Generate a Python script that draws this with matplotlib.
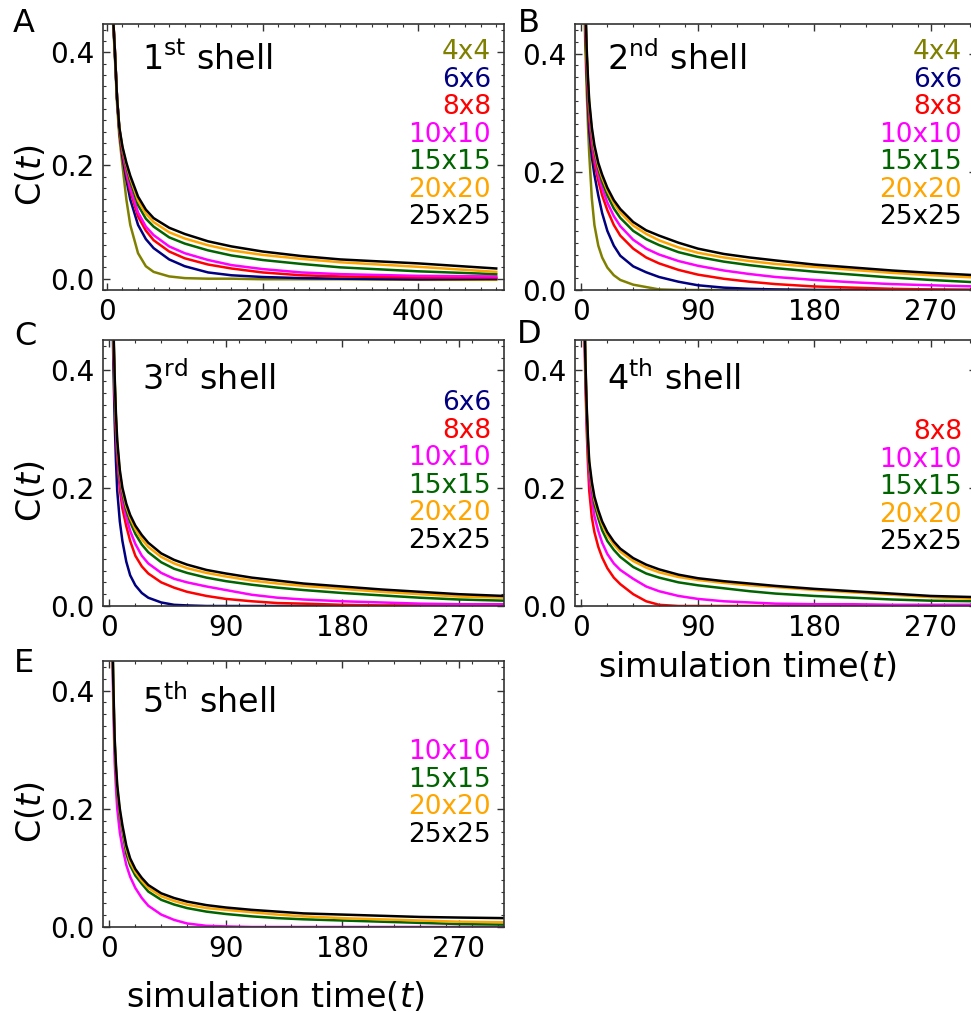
import matplotlib
matplotlib.use("Agg")
import matplotlib.pyplot as plt
from matplotlib.ticker import MultipleLocator, FixedLocator, FormatStrFormatter

plt.rcParams["font.family"] = ["DejaVu Sans"]
plt.rcParams["mathtext.fontset"] = "dejavusans"

# lattice sizes and their colours
sizes = ["4x4", "6x6", "8x8", "10x10", "15x15", "20x20", "25x25"]
colors = ["#808000", "#000080", "#ff0000", "#ff00ff", "#006400", "#ffa500", "#000000"]

# ---- 1st shell ----
t_1 = [0, 8, 10, 13, 16, 20, 25, 30, 40, 50, 60, 80, 100, 130, 160, 200, 250, 300, 400, 500]
shell1 = {
    "4x4":   [1, 0.45, 0.40, 0.31, 0.25, 0.20, 0.14, 0.095, 0.045, 0.022, 0.012, 0.004, 0.001, 0, 0, -0.001, -0.001, -0.001, -0.002, -0.002],
    "6x6":   [1, 0.46, 0.405, 0.32, 0.26, 0.215, 0.175, 0.14, 0.095, 0.07, 0.054, 0.034, 0.022, 0.011, 0.006, 0.003, 0.001, 0, -0.001, 0],
    "8x8":   [1, 0.46, 0.41, 0.32, 0.262, 0.222, 0.185, 0.155, 0.11, 0.085, 0.068, 0.048, 0.036, 0.025, 0.018, 0.011, 0.006, 0.004, 0.002, 0.002],
    "10x10": [1, 0.46, 0.41, 0.32, 0.264, 0.226, 0.19, 0.16, 0.117, 0.092, 0.077, 0.057, 0.045, 0.033, 0.024, 0.017, 0.011, 0.008, 0.005, 0.004],
    "15x15": [1, 0.46, 0.41, 0.32, 0.265, 0.229, 0.198, 0.172, 0.13, 0.106, 0.092, 0.073, 0.062, 0.05, 0.041, 0.033, 0.026, 0.02, 0.013, 0.008],
    "20x20": [1, 0.46, 0.41, 0.32, 0.266, 0.231, 0.202, 0.178, 0.138, 0.115, 0.1, 0.082, 0.071, 0.059, 0.05, 0.042, 0.035, 0.029, 0.021, 0.012],
    "25x25": [1, 0.46, 0.41, 0.32, 0.267, 0.233, 0.205, 0.182, 0.145, 0.122, 0.107, 0.09, 0.079, 0.066, 0.057, 0.048, 0.04, 0.034, 0.027, 0.018],
}

# ---- 2nd shell ----
t_2 = [0, 2, 3, 4, 5, 6, 8, 10, 13, 16, 20, 25, 30, 40, 50, 60, 75, 90, 110, 130, 150, 180, 210, 240, 270, 305]
shell2 = {
    "4x4":   [1, 0.50, 0.41, 0.34, 0.28, 0.23, 0.155, 0.11, 0.075, 0.055, 0.038, 0.025, 0.017, 0.009, 0.005, 0.001, 0, 0, 0, 0, 0, 0, 0, 0, 0, 0],
    "6x6":   [1, 0.55, 0.45, 0.37, 0.315, 0.27, 0.225, 0.195, 0.16, 0.13, 0.10, 0.075, 0.058, 0.04, 0.03, 0.022, 0.014, 0.008, 0.004, 0.002, 0.001, 0, 0, 0, 0, 0],
    "8x8":   [1, 0.56, 0.46, 0.38, 0.33, 0.29, 0.245, 0.215, 0.185, 0.16, 0.135, 0.11, 0.092, 0.07, 0.055, 0.045, 0.034, 0.026, 0.019, 0.014, 0.01, 0.006, 0.004, 0.002, 0.001, 0],
    "10x10": [1, 0.57, 0.47, 0.39, 0.34, 0.30, 0.255, 0.225, 0.195, 0.172, 0.148, 0.125, 0.108, 0.085, 0.07, 0.06, 0.049, 0.041, 0.033, 0.027, 0.022, 0.017, 0.013, 0.01, 0.008, 0.006],
    "15x15": [1, 0.58, 0.48, 0.40, 0.35, 0.31, 0.265, 0.235, 0.205, 0.183, 0.16, 0.138, 0.122, 0.10, 0.086, 0.076, 0.064, 0.056, 0.048, 0.042, 0.037, 0.031, 0.026, 0.021, 0.017, 0.013],
    "20x20": [1, 0.58, 0.48, 0.40, 0.355, 0.315, 0.27, 0.24, 0.21, 0.19, 0.168, 0.147, 0.131, 0.109, 0.095, 0.084, 0.072, 0.063, 0.055, 0.049, 0.044, 0.039, 0.034, 0.029, 0.025, 0.021],
    "25x25": [1, 0.58, 0.49, 0.41, 0.36, 0.32, 0.275, 0.245, 0.215, 0.195, 0.173, 0.152, 0.137, 0.115, 0.101, 0.092, 0.08, 0.07, 0.061, 0.055, 0.05, 0.043, 0.038, 0.033, 0.029, 0.025],
}

# ---- 3rd shell ----
t_3 = [0, 2, 3, 4, 5, 6, 8, 10, 13, 16, 20, 25, 30, 40, 50, 60, 75, 90, 110, 130, 150, 180, 210, 240, 270, 305]
shell3 = {
    "6x6":   [1, 0.55, 0.41, 0.314, 0.245, 0.195, 0.143, 0.11, 0.075, 0.052, 0.035, 0.022, 0.014, 0.006, 0.002, 0.001, 0, 0, 0, 0, 0, 0, 0, 0, 0, 0],
    "8x8":   [1, 0.58, 0.45, 0.36, 0.295, 0.25, 0.198, 0.165, 0.135, 0.11, 0.085, 0.067, 0.055, 0.04, 0.031, 0.024, 0.017, 0.012, 0.008, 0.005, 0.004, 0.002, 0.001, 0.001, 0.001, 0],
    "10x10": [1, 0.58, 0.46, 0.37, 0.305, 0.26, 0.21, 0.178, 0.15, 0.127, 0.105, 0.085, 0.072, 0.056, 0.046, 0.04, 0.033, 0.027, 0.019, 0.014, 0.011, 0.008, 0.006, 0.004, 0.003, 0.003],
    "15x15": [1, 0.59, 0.47, 0.38, 0.315, 0.27, 0.22, 0.19, 0.162, 0.142, 0.122, 0.104, 0.091, 0.074, 0.063, 0.056, 0.048, 0.042, 0.036, 0.031, 0.027, 0.022, 0.018, 0.014, 0.011, 0.009],
    "20x20": [1, 0.59, 0.47, 0.385, 0.32, 0.275, 0.225, 0.196, 0.168, 0.149, 0.13, 0.113, 0.10, 0.083, 0.072, 0.064, 0.056, 0.05, 0.043, 0.038, 0.034, 0.029, 0.024, 0.02, 0.016, 0.014],
    "25x25": [1, 0.59, 0.48, 0.39, 0.325, 0.28, 0.23, 0.20, 0.173, 0.154, 0.136, 0.12, 0.107, 0.089, 0.078, 0.07, 0.061, 0.055, 0.048, 0.043, 0.038, 0.033, 0.028, 0.024, 0.02, 0.017],
}

# ---- 4th shell ----
t_4 = [0, 2, 3, 4, 5, 6, 8, 10, 13, 16, 20, 25, 30, 40, 50, 60, 75, 90, 110, 130, 150, 180, 210, 240, 270, 305]
shell4 = {
    "8x8":   [1, 0.50, 0.38, 0.30, 0.24, 0.195, 0.15, 0.125, 0.10, 0.082, 0.064, 0.048, 0.037, 0.02, 0.008, 0.002, 0, 0, 0, 0, 0, 0, 0, 0, 0, 0],
    "10x10": [1, 0.52, 0.40, 0.32, 0.262, 0.22, 0.18, 0.152, 0.127, 0.107, 0.088, 0.072, 0.061, 0.046, 0.033, 0.025, 0.017, 0.012, 0.008, 0.006, 0.004, 0.003, 0.003, 0.002, 0.002, 0.002],
    "15x15": [1, 0.53, 0.41, 0.33, 0.275, 0.235, 0.20, 0.172, 0.148, 0.128, 0.11, 0.095, 0.083, 0.066, 0.055, 0.048, 0.04, 0.035, 0.03, 0.025, 0.021, 0.017, 0.014, 0.011, 0.009, 0.008],
    "20x20": [1, 0.54, 0.42, 0.335, 0.28, 0.24, 0.205, 0.18, 0.157, 0.138, 0.12, 0.104, 0.092, 0.076, 0.065, 0.057, 0.049, 0.044, 0.039, 0.035, 0.032, 0.027, 0.023, 0.019, 0.015, 0.012],
    "25x25": [1, 0.54, 0.42, 0.34, 0.285, 0.245, 0.21, 0.185, 0.162, 0.143, 0.125, 0.109, 0.097, 0.081, 0.07, 0.062, 0.053, 0.047, 0.042, 0.038, 0.034, 0.029, 0.025, 0.021, 0.017, 0.015],
}

# ---- 5th shell ----
t_5 = [0, 2, 3, 4, 5, 6, 8, 10, 13, 16, 20, 25, 30, 40, 50, 60, 75, 90, 110, 130, 150, 180, 210, 240, 270, 305]
shell5 = {
    "10x10": [1, 0.50, 0.37, 0.28, 0.235, 0.20, 0.16, 0.135, 0.105, 0.085, 0.066, 0.049, 0.036, 0.021, 0.012, 0.006, 0.002, 0.001, 0, 0, 0, 0, 0, 0, 0, 0],
    "15x15": [1, 0.52, 0.40, 0.31, 0.265, 0.23, 0.19, 0.162, 0.124, 0.104, 0.087, 0.073, 0.06, 0.046, 0.038, 0.032, 0.026, 0.022, 0.018, 0.015, 0.013, 0.011, 0.009, 0.007, 0.005, 0.004],
    "20x20": [1, 0.52, 0.40, 0.315, 0.27, 0.235, 0.195, 0.168, 0.133, 0.11, 0.093, 0.078, 0.066, 0.052, 0.044, 0.038, 0.032, 0.029, 0.025, 0.021, 0.018, 0.015, 0.013, 0.011, 0.009, 0.008],
    "25x25": [1, 0.53, 0.41, 0.32, 0.275, 0.24, 0.20, 0.172, 0.138, 0.116, 0.098, 0.083, 0.071, 0.057, 0.049, 0.043, 0.037, 0.033, 0.029, 0.026, 0.023, 0.021, 0.019, 0.017, 0.016, 0.015],
}

panels = [
    # letter, ordinal, suffix, data, times, xlim, xticks, ylim, axes corner (px: left, top), first label row
    ("A", "1", "st", shell1, t_1, (-5, 510), [0, 200, 400], (-0.02, 0.45), (103, 24), 0.894),
    ("B", "2", "nd", shell2, t_2, (-5, 305), [0, 90, 180, 270], (0, 0.45), (575, 24), 0.894),
    ("C", "3", "rd", shell3, t_3, (-5, 305), [0, 90, 180, 270], (0, 0.45), (103, 340), 0.763),
    ("D", "4", "th", shell4, t_4, (-5, 305), [0, 90, 180, 270], (0, 0.45), (575, 340), 0.654),
    ("E", "5", "th", shell5, t_5, (-5, 305), [0, 90, 180, 270], (0, 0.45), (103, 661), 0.658),
]

W, H = 971, 1013
fig = plt.figure(figsize=(W / 100, H / 100), dpi=100)
ax_w, ax_h = 401, 266

title_pos = {"A": (0.097, 0.826), "B": (0.08, 0.826), "C": (0.097, 0.812),
             "D": (0.08, 0.812), "E": (0.097, 0.805)}
letter_pos = {"A": (13, 32), "B": (518, 32), "C": (14, 345), "D": (517, 343), "E": (14, 672)}
legend_x = {"A": 0.968, "B": 0.965, "C": 0.968, "D": 0.965, "E": 0.968}

for letter, num, suf, data, tt, xlim, xticks, ylim, (px, py), leg_y in panels:
    ax = fig.add_axes([px / W, 1 - (py + ax_h) / H, ax_w / W, ax_h / H])
    for lab, col in zip(sizes, colors):
        if lab in data:
            ax.plot(tt, data[lab], color=col, lw=1.8, solid_joinstyle="round")
    ax.set_xlim(*xlim)
    ax.set_ylim(*ylim)
    ax.xaxis.set_major_locator(FixedLocator(xticks))
    ax.xaxis.set_minor_locator(MultipleLocator(20))
    ax.yaxis.set_major_locator(FixedLocator([0.0, 0.2, 0.4]))
    ax.yaxis.set_minor_locator(MultipleLocator(0.02))
    ax.yaxis.set_major_formatter(FormatStrFormatter("%.1f"))
    ax.tick_params(which="both", direction="in", top=True, right=True,
                   labelsize=20, pad=6, color="#333333")
    ax.tick_params(which="major", length=5, width=1)
    ax.tick_params(which="minor", length=2.5, width=0.8)
    for sp in ax.spines.values():
        sp.set_color("#333333")
        sp.set_linewidth(1.2)

    ax.text(title_pos[letter][0], title_pos[letter][1],
            r"$%s^{\mathrm{%s}}$ shell" % (num, suf),
            transform=ax.transAxes, fontsize=24, ha="left", va="baseline")

    # coloured size labels, right aligned
    present = [(lab, col) for lab, col in zip(sizes, colors) if lab in data]
    for i, (lab, col) in enumerate(present):
        ax.text(legend_x[letter], leg_y - i * 0.1035, lab, color=col,
                fontsize=19, ha="right", va="center", transform=ax.transAxes)

    if letter in ("A", "C", "E"):
        ax.set_ylabel(r"C($t$)", fontsize=24)
        ax.yaxis.set_label_coords(-0.137, 0.43)
    if letter in ("D", "E"):
        ax.set_xlabel(r"simulation time($t$)", fontsize=24)
        ax.xaxis.set_label_coords(0.43, -0.23 if letter == "D" else -0.262)
        ax.xaxis.label.set_va("center")

    lx, ly = letter_pos[letter]
    fig.text(lx / W, 1 - ly / H, letter, fontsize=23, ha="left", va="baseline")

fig.savefig("out.png", dpi=100)
